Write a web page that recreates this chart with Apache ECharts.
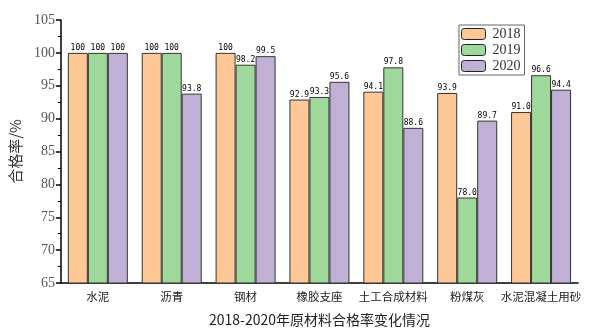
<!DOCTYPE html>
<html><head><meta charset="utf-8">
<script src="https://cdn.jsdelivr.net/npm/echarts@6/dist/echarts.min.js"></script>
<style>html,body{margin:0;padding:0;background:#fff}#c{width:600px;height:332px}</style>
</head><body><div id="c"></div>
<script>
const categories = ['水泥','沥青','钢材','橡胶支座','土工合成材料','粉煤灰','水泥混凝土用砂'];
const years = ['2018','2019','2020'];
const v2018 = [100, 100, 100, 92.9, 94.1, 93.9, 91.0];
const v2019 = [100, 100, 98.2, 93.3, 97.8, 78.0, 96.6];
const v2020 = [100, 93.8, 99.5, 95.6, 88.6, 89.7, 94.4];
const colors = ['#FDC896', '#9ED89B', '#C1B0D6'];
const serif = '"Liberation Serif","Noto Sans CJK SC",serif';
const cjk = '"Noto Sans CJK SC","Liberation Serif",serif';

const chart = echarts.init(document.getElementById('c'), null, {renderer:'canvas'});
const mk = (name, data, i) => ({
  name, type:'bar', data, barWidth:20, barGap:'0%',
  itemStyle:{color:colors[i], borderColor:'#333', borderWidth:1},
  label:{show:true, position:'top', distance:1, fontSize:8, color:'#000', fontFamily:'"DejaVu Sans Mono",monospace',
    formatter:p=> p.value===100 ? '100' : p.value.toFixed(1)}
});
chart.setOption({
  animation:false,
  grid:{left:56, right:22, top:20, bottom:47},
  legend:{
    orient:'vertical', left:459, top:25, itemWidth:24, itemHeight:11, itemGap:2,
    padding:[2,4,2,2], borderColor:'#666', borderWidth:1,
    textStyle:{fontFamily:serif, fontSize:14, color:'#333', padding:[0,0,0,2]},
    itemStyle:{borderColor:'#222', borderWidth:1},
    data:years
  },
  xAxis:[{
    type:'category', data:categories,
    axisLine:{lineStyle:{color:'#000', width:1.5}},
    axisTick:{alignWithLabel:true, length:5, lineStyle:{color:'#000', width:1.5}},
    axisLabel:{interval:0, fontFamily:cjk, fontSize:11.5, color:'#222', margin:8},
    name:'2018-2020年原材料合格率变化情况', nameLocation:'middle', nameGap:30,
    nameTextStyle:{fontFamily:cjk, fontSize:14, color:'#222'}
  },{
    type:'category', data:categories, position:'bottom',
    axisLine:{show:false},
    axisTick:{length:3, lineStyle:{color:'#000', width:1.5}},
    axisLabel:{show:false}
  }],
  yAxis:{
    type:'value', min:65, max:105, interval:5,
    axisLine:{show:true, lineStyle:{color:'#000', width:1.5}},
    axisTick:{show:true, length:5, lineStyle:{color:'#000', width:1.5}},
    minorTick:{show:true, splitNumber:2, length:3, lineStyle:{color:'#000', width:1}},
    splitLine:{show:false},
    axisLabel:{fontFamily:serif, fontSize:14, color:'#555', margin:6},
    name:'合格率/%', nameLocation:'middle', nameGap:27, nameRotate:90,
    nameTextStyle:{fontFamily:cjk, fontSize:15, color:'#333'}
  },
  series:[mk('2018', v2018, 0), mk('2019', v2019, 1), mk('2020', v2020, 2)]
});
</script></body></html>
